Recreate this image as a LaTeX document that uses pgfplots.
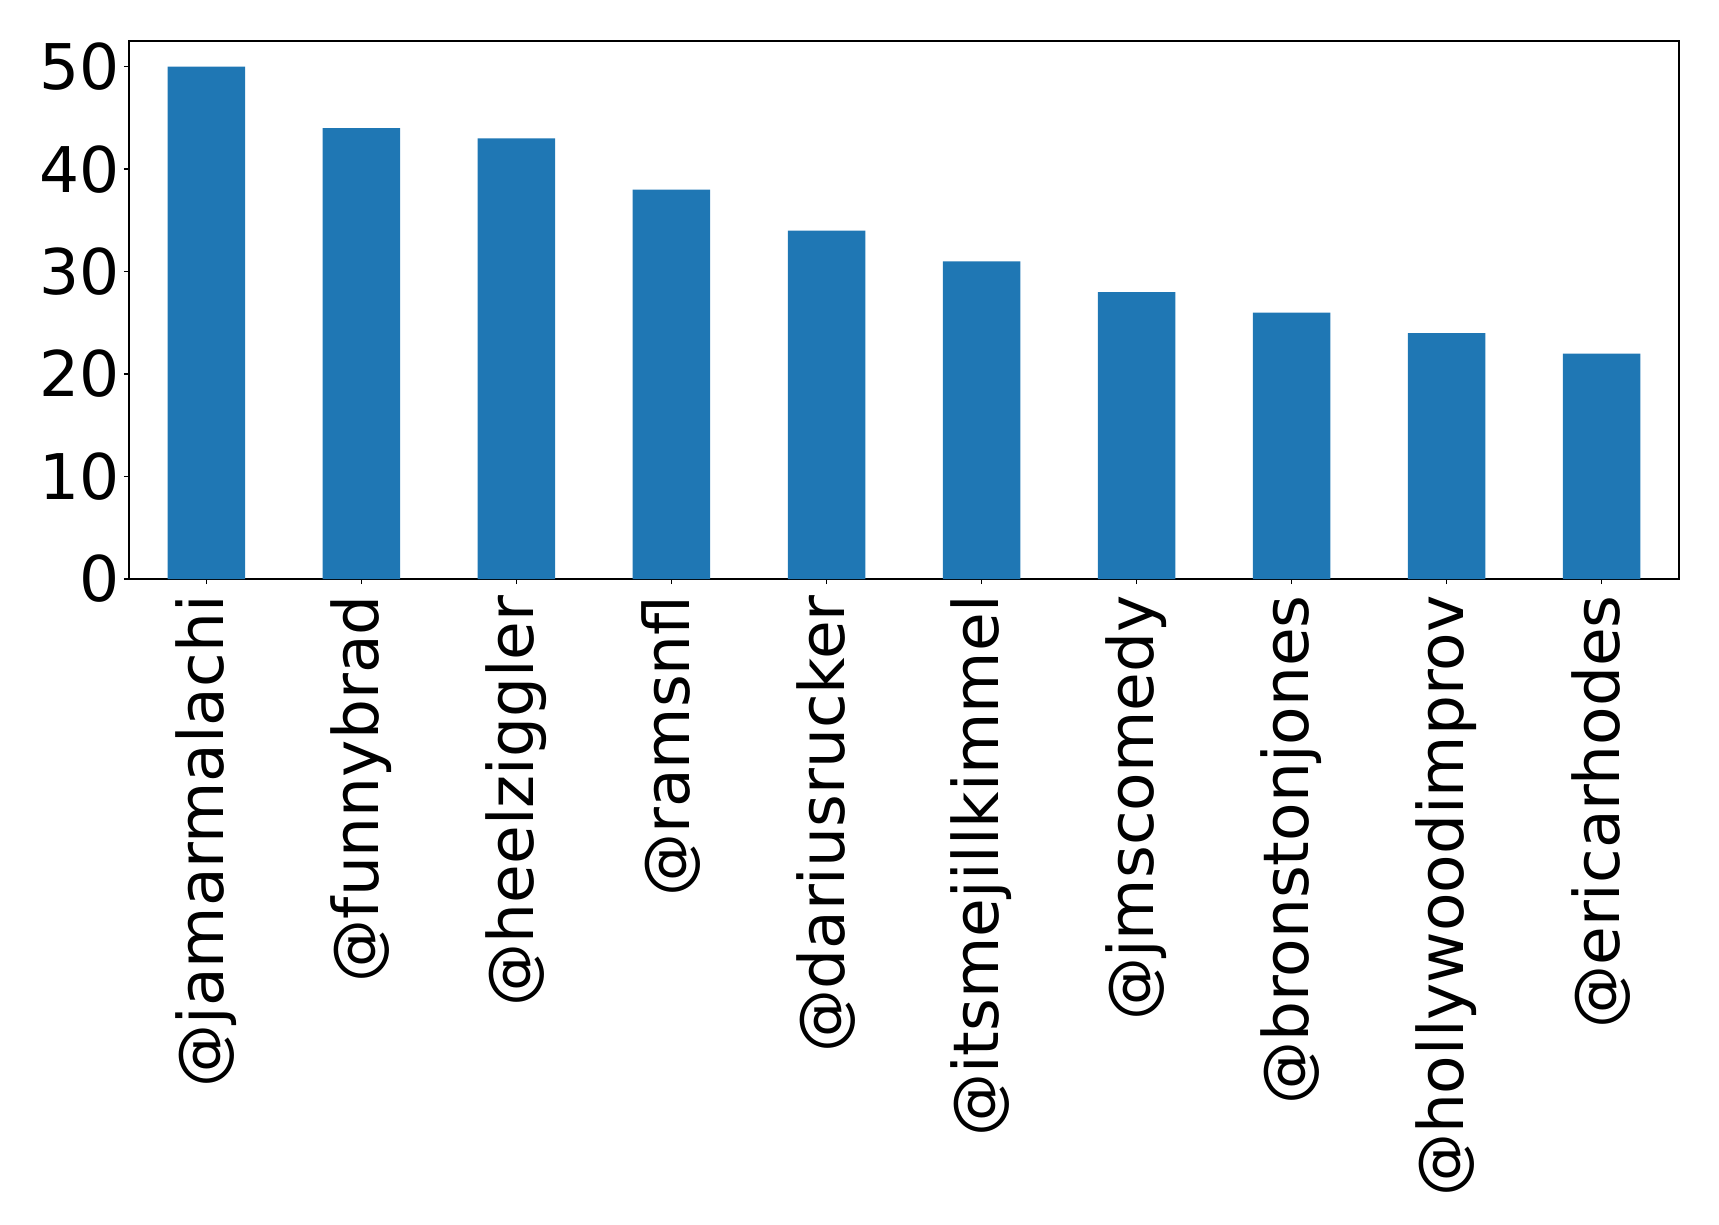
\documentclass[border=0pt]{standalone}
\usepackage{pgfplots}
\pgfplotsset{compat=1.18}
\usepackage{fontspec}
\setmainfont{DejaVu Sans}
\definecolor{mplblue}{HTML}{1F77B4}
\begin{document}
\begin{tikzpicture}
\path[use as bounding box] (-64.5pt,-323pt) rectangle (795pt,289.5pt);
\begin{axis}[
  at={(0,0)}, anchor=south west,
  scale only axis,
  width=775pt, height=269pt,
  xmin=-0.5, xmax=9.5,
  ymin=0, ymax=52.5,
  ybar, bar width=0.5, bar shift=0pt,
  xtick={0,1,2,3,4,5,6,7,8,9},
  xticklabels={@jamarmalachi,@funnybrad,@heelziggler,@ramsnfl,@dariusrucker,@itsmejillkimmel,@jmscomedy,@bronstonjones,@hollywoodimprov,@ericarhodes},
  ytick={0,10,20,30,40,50},
  tick align=outside,
  major tick length=2.5pt,
  tick style={black, line width=0.8pt},
  axis line style={line width=0.9pt},
  xtick pos=bottom, ytick pos=left,
  /pgf/number format/assume math mode=true,
  ticklabel style={font=\fontsize{31.5}{37}\selectfont},
  xticklabel style={rotate=90, anchor=east, inner sep=0pt, xshift=-5.5pt},
  yticklabel style={anchor=east, inner sep=0pt, xshift=-2pt},
]
\addplot[fill=mplblue, draw=none] coordinates {
  (0,50) (1,44) (2,43) (3,38) (4,34) (5,31) (6,28) (7,26) (8,24) (9,22)
};
\end{axis}
\end{tikzpicture}
\end{document}
